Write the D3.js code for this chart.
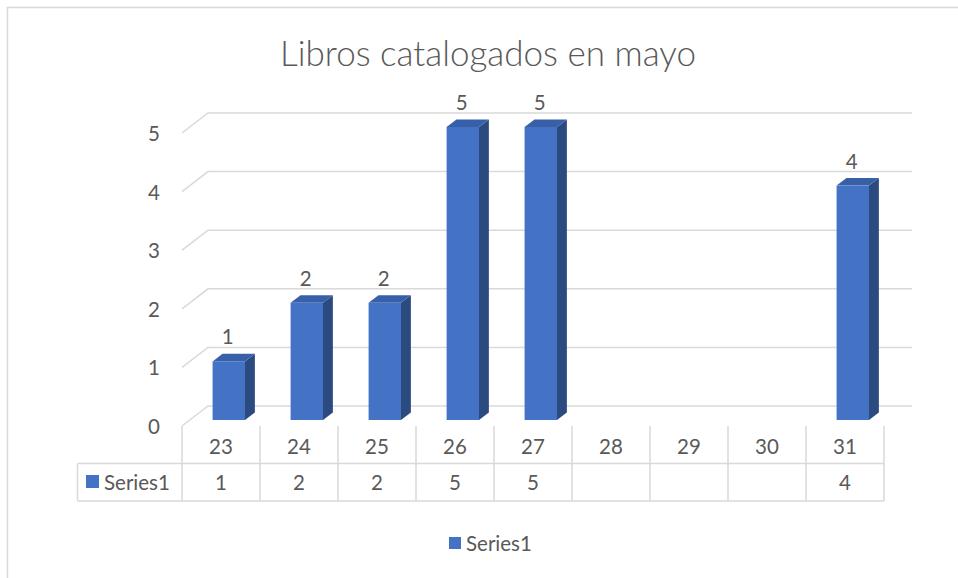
<!DOCTYPE html>
<html>
<head>
<meta charset="utf-8">
<script src="https://cdn.jsdelivr.net/npm/d3@7"></script>
<style>
  body { margin: 0; background: #fff; }
  text { font-family: Lato, "Open Sans", sans-serif; fill: #595959; }
</style>
</head>
<body>
<svg id="chart" width="958" height="578"></svg>
<script>
// data
var categories = ['23', '24', '25', '26', '27', '28', '29', '30', '31']
var values = [1, 2, 2, 5, 5, null, null, null, 4]
var yTicks = [0, 1, 2, 3, 4, 5]
var seriesName = 'Series1'
var title = 'Libros catalogados en mayo'

var colorFront = '#4472C4'
var colorSide = '#2B4A80'
var colorTop = '#3760A8'
var colorGrid = '#D9D9D9'
var fontSize = 20.5

var svg = d3.select('#chart')

// outer chart border
svg.append('path')
  .attr('d', 'M7.5,600 L7.5,7.5 L960,7.5')
  .attr('fill', 'none')
  .attr('stroke', colorGrid)
  .attr('stroke-width', 1.5)

// plot geometry
var left = 182, right = 884
var depth = [26, -20]
var x = d3.scaleBand().domain(categories).range([left, right])
var y = d3.scaleLinear().domain([0, 5]).range([426, 133])

// gridlines (front diagonal + back wall)
svg.append('g').selectAll('path')
  .data(yTicks)
  .enter().append('path')
  .attr('d', function (d) {
    var yy = y(d)
    return 'M' + left + ',' + yy + ' L' + (left + depth[0]) + ',' + (yy + depth[1]) +
      ' L' + (right + depth[0] + 2) + ',' + (yy + depth[1])
  })
  .attr('fill', 'none')
  .attr('stroke', colorGrid)
  .attr('stroke-width', 1.5)

// y axis labels
var yAxis = d3.axisLeft(y).tickValues(yTicks).tickFormat(d3.format('d')).tickSize(0).tickPadding(0)
var ga = svg.append('g').attr('transform', 'translate(160,1)').call(yAxis)
ga.select('.domain').remove()
ga.selectAll('text')
  .attr('font-size', fontSize)
  .attr('font-family', 'Lato, sans-serif')
  .attr('fill', '#595959')

// bars
var f0 = 0.3, f1 = 0.68
var bw = 32.4
var bars = categories.map(function (c, i) { return { c: c, v: values[i] } })
  .filter(function (d) { return d.v != null })

var gb = svg.append('g')
bars.forEach(function (d) {
  var cx = x(d.c) + x.bandwidth() / 2 + depth[0] * f0
  var x0 = cx - bw / 2, x1 = cx + bw / 2
  var yb = y(0) + depth[1] * f0
  var yt = yb - (y(0) - y(d.v))
  var ddx = depth[0] * (f1 - f0), ddy = depth[1] * (f1 - f0)
  // side
  gb.append('path')
    .attr('d', 'M' + x1 + ',' + yb + ' L' + (x1 + ddx) + ',' + (yb + ddy) + ' L' + (x1 + ddx) + ',' + (yt + ddy) + ' L' + x1 + ',' + yt + 'Z')
    .attr('fill', colorSide)
  // top
  gb.append('path')
    .attr('d', 'M' + x0 + ',' + yt + ' L' + (x0 + ddx) + ',' + (yt + ddy) + ' L' + (x1 + ddx) + ',' + (yt + ddy) + ' L' + x1 + ',' + yt + 'Z')
    .attr('fill', colorTop)
  // front
  gb.append('rect')
    .attr('x', x0).attr('y', yt)
    .attr('width', bw).attr('height', yb - yt)
    .attr('fill', colorFront)
  // data label
  gb.append('text')
    .attr('x', cx - 1).attr('y', yt - 25)
    .attr('text-anchor', 'middle')
    .attr('dominant-baseline', 'central')
    .attr('font-size', fontSize)
    .text(d.v)
})

// data table
var rowTop = 426, rowMid = 463.5, rowBot = 501
var keyLeft = 77.5
var gt = svg.append('g').attr('stroke', colorGrid).attr('stroke-width', 1.5)
gt.append('line').attr('x1', keyLeft).attr('x2', right).attr('y1', rowMid).attr('y2', rowMid)
gt.append('line').attr('x1', keyLeft).attr('x2', right).attr('y1', rowBot).attr('y2', rowBot)
gt.append('line').attr('x1', keyLeft).attr('x2', keyLeft).attr('y1', rowMid).attr('y2', rowBot)
gt.selectAll('.v')
  .data(categories.concat(['end']))
  .enter().append('line')
  .attr('x1', function (d) { return d === 'end' ? right : x(d) })
  .attr('x2', function (d) { return d === 'end' ? right : x(d) })
  .attr('y1', rowTop).attr('y2', rowBot)

svg.append('g').selectAll('text')
  .data(categories)
  .enter().append('text')
  .attr('x', function (d) { return x(d) + x.bandwidth() / 2 })
  .attr('y', (rowTop + rowMid) / 2 + 1)
  .attr('text-anchor', 'middle')
  .attr('dominant-baseline', 'central')
  .attr('font-size', fontSize)
  .text(function (d) { return d })

svg.append('g').selectAll('text')
  .data(categories.map(function (c, i) { return { c: c, v: values[i] } }))
  .enter().append('text')
  .attr('x', function (d) { return x(d.c) + x.bandwidth() / 2 })
  .attr('y', (rowMid + rowBot) / 2)
  .attr('text-anchor', 'middle')
  .attr('dominant-baseline', 'central')
  .attr('font-size', fontSize)
  .text(function (d) { return d.v == null ? '' : d.v })

// table legend key
svg.append('rect').attr('x', 86).attr('y', 475).attr('width', 13).attr('height', 13).attr('fill', colorFront)
svg.append('text').attr('x', 104).attr('y', (rowMid + rowBot) / 2)
  .attr('dominant-baseline', 'central').attr('font-size', fontSize).text(seriesName)

// legend
svg.append('rect').attr('x', 449).attr('y', 537).attr('width', 12).attr('height', 12).attr('fill', colorFront)
svg.append('text').attr('x', 466).attr('y', 543)
  .attr('dominant-baseline', 'central').attr('font-size', fontSize).text(seriesName)

// title
svg.append('text')
  .attr('x', 488).attr('y', 52)
  .attr('text-anchor', 'middle')
  .attr('dominant-baseline', 'central')
  .attr('font-size', 35)
  .attr('font-weight', 300)
  .text(title)
</script>
</body>
</html>
